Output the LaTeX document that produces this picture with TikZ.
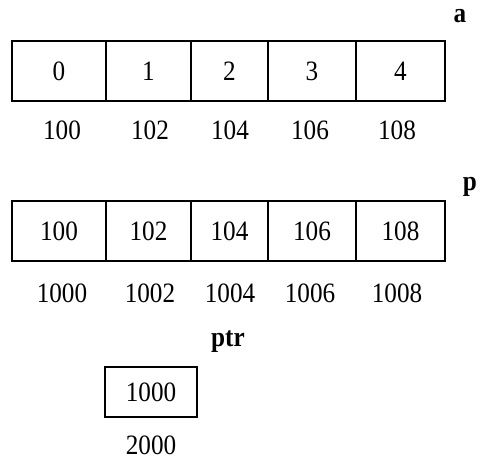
\documentclass[tikz,border=0pt]{standalone}
\usepackage{fontspec}
\setmainfont[FakeStretch=0.9]{Liberation Serif}
\begin{document}
\begin{tikzpicture}[x=1pt,y=-1pt,
  every node/.style={font=\fontsize{28}{32}\selectfont, inner sep=0pt},
  cell/.style={draw, line width=2pt, minimum height=60pt, anchor=center},
  addr/.style={anchor=center},
  varname/.style={font=\fontsize{28}{32}\selectfont\bfseries, anchor=center}]
\useasboundingbox (0,0) rectangle (480,459);
% array a
\node[varname] (na) at (460,16) {a};
\node[cell, minimum width=94pt] (a0) at (59,71) {0};
\node[cell, minimum width=85pt] (a1) at (148.5,71) {1};
\node[cell, minimum width=77pt] (a2) at (229.5,71) {2};
\node[cell, minimum width=88pt] (a3) at (312,71) {3};
\node[cell, minimum width=89pt] (a4) at (400.5,71) {4};
\node[addr] (la0) at (62,130) {100};
\node[addr] (la1) at (150,130) {102};
\node[addr] (la2) at (230,130) {104};
\node[addr] (la3) at (310,130) {106};
\node[addr] (la4) at (397,130) {108};
% array p
\node[varname] (np) at (470,187) {p};
\node[cell, minimum width=94pt] (p0) at (59,231) {100};
\node[cell, minimum width=85pt] (p1) at (148.5,231) {102};
\node[cell, minimum width=77pt] (p2) at (229.5,231) {104};
\node[cell, minimum width=88pt] (p3) at (312,231) {106};
\node[cell, minimum width=89pt] (p4) at (400.5,231) {108};
\node[addr] (lp0) at (62,293) {1000};
\node[addr] (lp1) at (150,293) {1002};
\node[addr] (lp2) at (230,293) {1004};
\node[addr] (lp3) at (310,293) {1006};
\node[addr] (lp4) at (397,293) {1008};
% ptr
\node[varname] (nptr) at (228,342) {ptr};
\node[cell, minimum width=92pt, minimum height=50pt] (ptr) at (151,392) {1000};
\node[addr] (lptr) at (151,445) {2000};
\end{tikzpicture}
\end{document}
